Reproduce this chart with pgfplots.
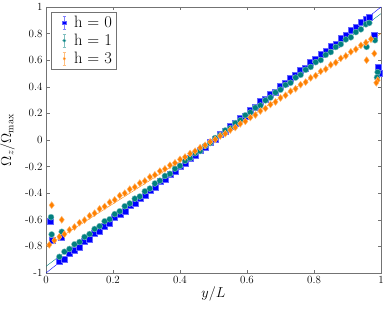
\documentclass[border=0pt]{standalone}
\usepackage{pgfplots}
\pgfplotsset{compat=1.18}
\definecolor{cb}{rgb}{0.0,0.0,1.0}
\definecolor{ct}{rgb}{0.0,0.5,0.5}
\definecolor{co}{rgb}{1.0,0.5,0.0}
\pgfplotsset{errleg/.style 2 args={legend image code/.code={
 \path[draw=none,fill=none] (0cm,-0.3cm) (0.66cm,0.3cm);
 \draw[#2,line width=0.6pt] (0.39cm,-0.23cm) -- (0.39cm,0.23cm) (0.33cm,-0.23cm) -- (0.45cm,-0.23cm) (0.33cm,0.23cm) -- (0.45cm,0.23cm);
 \draw[##1, mark size=1.7pt] plot coordinates {(0.39cm,0cm)};
}}}
\begin{document}
\begin{tikzpicture}
\useasboundingbox (-46pt,-40pt) rectangle (344pt,273pt);
\begin{axis}[
  at={(0,0)}, anchor=south west,
  width=335pt, height=266pt, scale only axis,
  xmin=0, xmax=1, ymin=-1, ymax=1,
  xtick={0,0.2,0.4,0.6,0.8,1},
  ytick={-1,-0.8,-0.6,-0.4,-0.2,0,0.2,0.4,0.6,0.8,1},
  /pgf/number format/assume math mode=true,
  axis line style={black!55},
  tick style={black!55},
  major tick length=3.5pt,
  tick label style={font=\fontsize{11}{13}\selectfont},
  xlabel={$y/L$}, ylabel={$\Omega_z/\Omega_{\max}$},
  label style={font=\Large},
  xlabel style={yshift=4pt},
  ylabel style={yshift=3.5pt},
  legend style={at={(0.015,0.982)}, anchor=north west, draw=black!55, font=\fontsize{16.5}{19}\selectfont, row sep=1pt, inner sep=2pt},
  legend cell align=left,
]
\addplot[only marks, mark=square*, mark size=3pt, color=cb, mark options={fill=cb, draw=cb!60!white}, errleg={cb}{cb!50!white}] coordinates {
(0.040,-0.915)(0.055,-0.895)(0.070,-0.852)(0.085,-0.830)(0.100,-0.808)(0.115,-0.764)(0.130,-0.743)(0.145,-0.701)
(0.160,-0.686)(0.175,-0.648)(0.190,-0.629)(0.205,-0.583)(0.220,-0.560)(0.235,-0.536)(0.250,-0.492)(0.265,-0.474)
(0.280,-0.435)(0.295,-0.418)(0.310,-0.377)(0.325,-0.355)(0.340,-0.313)(0.355,-0.292)(0.370,-0.256)(0.385,-0.237)
(0.400,-0.194)(0.415,-0.173)(0.430,-0.135)(0.445,-0.116)(0.460,-0.077)(0.475,-0.054)(0.490,-0.015)(0.505,0.005)
(0.520,0.046)(0.535,0.066)(0.550,0.107)(0.565,0.124)(0.580,0.164)(0.595,0.182)(0.610,0.226)(0.625,0.247)
(0.640,0.288)(0.655,0.305)(0.670,0.343)(0.685,0.363)(0.700,0.406)(0.715,0.426)(0.730,0.468)(0.745,0.484)
(0.760,0.524)(0.775,0.542)(0.790,0.586)(0.805,0.607)(0.820,0.647)(0.835,0.665)(0.850,0.705)(0.865,0.724)
(0.880,0.768)(0.895,0.786)(0.910,0.826)(0.925,0.845)(0.940,0.887)(0.955,0.907)(0.965,0.925)
(0.012,-0.61)(0.018,-0.75)(0.045,-0.73)(0.980,0.79)(0.992,0.55)(0.994,0.50)
};
\addlegendentry{h = 0}
\addplot[only marks, mark=*, mark size=3pt, color=ct, mark options={fill=ct, draw=ct!50!white}, errleg={ct}{ct!50!white}] coordinates {
(0.040,-0.878)(0.055,-0.840)(0.070,-0.819)(0.085,-0.784)(0.100,-0.767)(0.115,-0.729)(0.130,-0.707)(0.145,-0.669)
(0.160,-0.648)(0.175,-0.611)(0.190,-0.596)(0.205,-0.557)(0.220,-0.536)(0.235,-0.498)(0.250,-0.477)(0.265,-0.441)
(0.280,-0.425)(0.295,-0.386)(0.310,-0.365)(0.325,-0.327)(0.340,-0.306)(0.355,-0.270)(0.370,-0.254)(0.385,-0.215)
(0.400,-0.194)(0.415,-0.156)(0.430,-0.135)(0.445,-0.099)(0.460,-0.083)(0.475,-0.044)(0.490,-0.023)(0.505,0.015)
(0.520,0.036)(0.535,0.072)(0.550,0.088)(0.565,0.127)(0.580,0.148)(0.595,0.186)(0.610,0.207)(0.625,0.243)
(0.640,0.259)(0.655,0.298)(0.670,0.319)(0.685,0.357)(0.700,0.378)(0.715,0.414)(0.730,0.430)(0.745,0.469)
(0.760,0.490)(0.775,0.528)(0.790,0.549)(0.805,0.585)(0.820,0.601)(0.835,0.640)(0.850,0.661)(0.865,0.699)
(0.880,0.720)(0.895,0.756)(0.910,0.772)(0.925,0.811)(0.940,0.832)(0.955,0.870)(0.965,0.880)
(0.015,-0.58)(0.017,-0.71)(0.047,-0.69)(0.957,0.70)(0.982,0.75)(0.990,0.51)(0.988,0.47)
};
\addlegendentry{h = 1}
\addplot[only marks, mark=diamond*, mark size=3.5pt, color=co, mark options={fill=co, draw=co!55!white}, errleg={co}{co!50!white}] coordinates {
(0.010,-0.788)(0.025,-0.755)(0.040,-0.728)(0.055,-0.708)(0.070,-0.676)(0.085,-0.654)(0.100,-0.622)(0.115,-0.602)
(0.130,-0.570)(0.145,-0.550)(0.160,-0.518)(0.175,-0.500)(0.190,-0.468)(0.205,-0.450)(0.220,-0.418)(0.235,-0.400)
(0.250,-0.370)(0.265,-0.354)(0.280,-0.324)(0.295,-0.308)(0.310,-0.278)(0.325,-0.262)(0.340,-0.234)(0.355,-0.217)
(0.370,-0.190)(0.385,-0.172)(0.400,-0.146)(0.415,-0.128)(0.430,-0.102)(0.445,-0.084)(0.460,-0.058)(0.475,-0.040)
(0.490,-0.014)(0.505,0.004)(0.520,0.030)(0.535,0.048)(0.550,0.075)(0.565,0.094)(0.580,0.122)(0.595,0.140)
(0.610,0.169)(0.625,0.188)(0.640,0.218)(0.655,0.237)(0.670,0.267)(0.685,0.286)(0.700,0.316)(0.715,0.336)
(0.730,0.366)(0.745,0.385)(0.760,0.416)(0.775,0.435)(0.790,0.467)(0.805,0.484)(0.820,0.516)(0.835,0.533)
(0.850,0.565)(0.865,0.582)(0.880,0.614)(0.895,0.632)(0.910,0.663)(0.925,0.682)(0.940,0.712)(0.955,0.732)(0.970,0.758)
(0.017,-0.49)(0.047,-0.60)(0.957,0.60)(0.980,0.65)(0.990,0.45)(0.986,0.43)
};
\addlegendentry{h = 3}
\addplot[cb, thin, no marks, forget plot] coordinates {(0,-1)(1,1)};
\addplot[ct, thin, no marks, forget plot] coordinates {(0,-0.95)(1,0.95)};
\addplot[co, thin, no marks, forget plot] coordinates {(0,-0.8)(1,0.8)};
\end{axis}
\end{tikzpicture}
\end{document}
